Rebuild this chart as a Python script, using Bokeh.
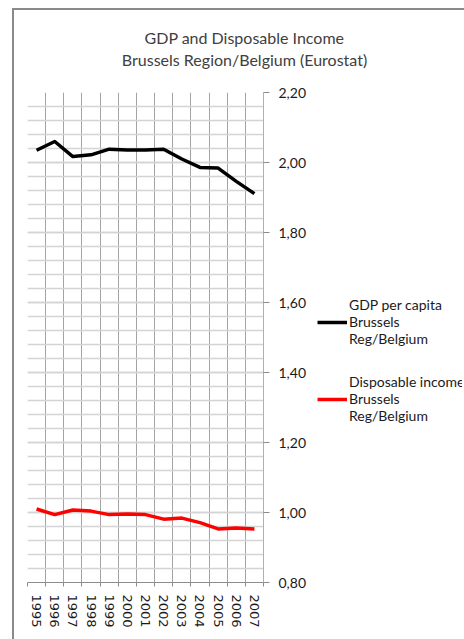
from bokeh.plotting import figure
from bokeh.layouts import row, column
from bokeh.models import (FixedTicker, SingleIntervalTicker, Range1d, Legend, Label,
                          LegendItem, CustomJSTickFormatter, InlineStyleSheet)
from bokeh.embed import file_html
from bokeh.resources import INLINE

years = ["1995", "1996", "1997", "1998", "1999", "2000", "2001",
         "2002", "2003", "2004", "2005", "2006", "2007"]
gdp = [2.035, 2.060, 2.017, 2.022, 2.038, 2.036, 2.036,
       2.038, 2.010, 1.986, 1.984, 1.946, 1.911]
income = [1.010, 0.994, 1.007, 1.004, 0.994, 0.996, 0.994,
          0.981, 0.984, 0.971, 0.953, 0.956, 0.953]
y_ticks = [0.80, 1.00, 1.20, 1.40, 1.60, 1.80, 2.00, 2.20]
title_lines = ["GDP and Disposable Income", "Brussels Region/Belgium (Eurostat)"]
gdp_label = ["GDP per capita", "Brussels", "Reg/Belgium"]
income_label = ["Disposable income", "Brussels", "Reg/Belgium"]

W, H = 464, 639
FL, FR, FT, FB = 27, 263, 92, 582
TH = 82             # height of the title strip
AXW = 40            # room for the right-hand axis
PW = 311            # actual width taken by the chart figure
LW = W - PW         # width of the legend strip

n = len(years)
xs = [i + 0.5 for i in range(n)]

# ---- title strip ----
t = figure(width=W, height=TH, output_backend="svg", toolbar_location=None,
           x_range=Range1d(0, W), y_range=Range1d(0, TH),
           x_axis_type=None, y_axis_type=None,
           min_border_left=0, min_border_right=0, min_border_top=0, min_border_bottom=0)
t.grid.visible = False
t.outline_line_color = None
t.background_fill_color = "white"
t.border_fill_color = "white"
t.stylesheets = [InlineStyleSheet(css="""
:host { position: relative; }
:host::after { content: ''; position: absolute; left: 12px; top: 8px; right: 0px; bottom: 0px;
  border-top: 2px solid #8a8a8a; border-left: 2px solid #8a8a8a; pointer-events: none; }
""")]
t.add_layout(Label(x=244, y=TH - 48, text="\n".join(title_lines),
                   text_align="center", text_baseline="middle",
                   text_font="Lato", text_font_size="16px", text_line_height=1.15,
                   text_color="#404040"))

# ---- chart ----
p = figure(width=FR + AXW, height=H - TH, output_backend="svg", toolbar_location=None,
           x_range=Range1d(0, n), y_range=Range1d(0.80, 2.20),
           y_axis_location="right",
           min_border_left=FL, min_border_right=AXW,
           min_border_top=FT - TH, min_border_bottom=H - FB)
p.frame_width = FR - FL
p.frame_height = FB - FT
p.outline_line_color = None
p.background_fill_color = "white"
p.border_fill_color = "white"
p.stylesheets = [InlineStyleSheet(css="""
:host { position: relative; }
:host::after { content: ''; position: absolute; left: 12px; top: 0px; width: 0px; bottom: 0px;
  border-left: 2px solid #8a8a8a; pointer-events: none; }
""")]

# grids
p.xgrid.ticker = FixedTicker(ticks=list(range(n + 1)))
p.xgrid.grid_line_color = "#a3a3a3"
p.xgrid.grid_line_width = 1
p.ygrid.ticker = SingleIntervalTicker(interval=0.2, num_minor_ticks=5)
p.ygrid.grid_line_color = "#d4d4d4"
p.ygrid.grid_line_width = 1.5
p.ygrid.minor_grid_line_color = "#d4d4d4"
p.ygrid.minor_grid_line_width = 1.5

# x axis
xa = p.xaxis[0]
xa.ticker = FixedTicker(ticks=xs, minor_ticks=list(range(n + 1)))
xa.major_label_overrides = {x: y for x, y in zip(xs, years)}
xa.major_tick_line_color = None
xa.minor_tick_in = 0
xa.minor_tick_out = 4
xa.minor_tick_line_color = "#8c8c8c"
xa.axis_line_color = "#8c8c8c"
xa.major_label_orientation = "vertical"
xa.major_label_text_font = "DejaVu Sans"
xa.major_label_text_font_size = "13px"
xa.major_label_text_color = "#1a1a1a"
xa.major_label_standoff = 6

# y axis (right)
ya = p.yaxis[0]
ya.ticker = FixedTicker(ticks=y_ticks)
ya.formatter = CustomJSTickFormatter(code="return tick.toFixed(2).replace('.', ',');")
ya.major_tick_in = 0
ya.major_tick_out = 6
ya.minor_tick_line_color = None
ya.major_tick_line_color = "#8c8c8c"
ya.axis_line_color = "#b0b0b0"
ya.major_label_text_font = "Lato"
ya.major_label_text_font_size = "14px"
ya.major_label_text_color = "#1a1a1a"
ya.major_label_standoff = 9

p.line(xs, gdp, line_color="black", line_width=3.5, line_join="round")
p.line(xs, income, line_color="#ff0000", line_width=3.5, line_join="round")

# ---- legend strip: the series lines sit outside its y range, only the legend shows ----
q = figure(width=LW, height=H - TH, output_backend="svg", toolbar_location=None,
           x_range=Range1d(0, n), y_range=Range1d(10, 11),
           x_axis_type=None, y_axis_type=None,
           min_border_left=0, min_border_right=0, min_border_top=0, min_border_bottom=0)
q.grid.visible = False
q.outline_line_color = None
q.background_fill_color = "white"
q.border_fill_color = "white"
q1 = q.line(xs, gdp, line_color="black", line_width=3.5)
q2 = q.line(xs, income, line_color="#ff0000", line_width=3.5)

legend = Legend(items=[LegendItem(label="\n".join(gdp_label), renderers=[q1]),
                       LegendItem(label="\n".join(income_label), renderers=[q2])],
                location=(8, 158))
legend.border_line_color = None
legend.background_fill_alpha = 0
legend.label_text_font = "Lato"
legend.label_text_font_size = "14px"
legend.label_text_line_height = 1.3
legend.label_text_color = "#1a1a1a"
legend.glyph_width = 30
legend.spacing = 26
legend.label_standoff = 2
legend.margin = 0
legend.padding = 0
q.add_layout(legend, "center")

layout = column(t, row(p, q))
open("out.html", "w").write(file_html(layout, INLINE))
